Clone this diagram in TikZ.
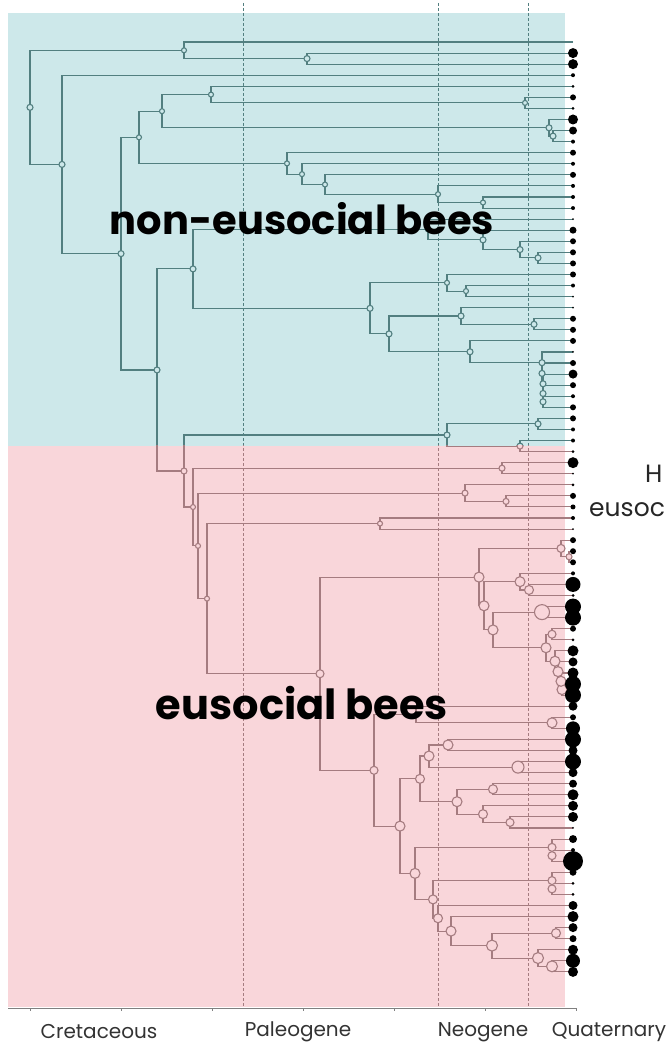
\documentclass[tikz,border=0pt]{standalone}
\usepackage{fontspec}
\usetikzlibrary{calc}
\newfontfamily\popfont{Poppins}

\definecolor{noneubg}{HTML}{CDE8EA}
\definecolor{eubg}{HTML}{F9D6DA}
\definecolor{noneuline}{HTML}{527F80}
\definecolor{euline}{HTML}{A57C80}

% one clade: name, x, upper child, lower child, knot radius
\newcommand\defclade[5]{\path let \p1=($(#3)!.5!(#4)$) in coordinate (#1) at (#2pt,\y1);}
\newcommand\edgeclade[5]{\draw[branch] (#3) -| (#1) |- (#4);}
\newcommand\knotclade[5]{\path[knot] (#1) circle[radius=#5pt];}

\newcommand\treedata{%
  % non-eusocial part
  \clade{c1}{307}{t1}{t2}{3}
  \clade{c2}{184}{t0}{c1}{2.5}
  \clade{c3}{525}{t5}{t6}{2.5}
  \clade{c4}{211}{t4}{c3}{2.5}
  \clade{c5}{553}{t8}{t9}{3}
  \clade{c6}{549}{t7}{c5}{3}
  \clade{c7}{162}{c4}{c6}{2.5}
  \clade{c8}{483}{t14}{t15}{2.5}
  \clade{c9}{438}{t13}{c8}{2.5}
  \clade{c10}{325}{t12}{c9}{2.5}
  \clade{c11}{302}{t11}{c10}{2.5}
  \clade{c12}{287}{t10}{c11}{2.5}
  \clade{c13}{139}{c7}{c12}{2.5}
  \clade{c14}{538}{t19}{t20}{3}
  \clade{c15}{520}{t18}{c14}{3}
  \clade{c16}{483}{t17}{c15}{3}
  \clade{c17}{428}{t16}{c16}{2.5}
  \clade{c18}{466}{t22}{t23}{2.5}
  \clade{c19}{447}{t21}{c18}{2.5}
  \clade{c20}{534}{t25}{t26}{3}
  \clade{c21}{461}{t24}{c20}{3}
  \clade{c22}{543}{t32}{t33}{3}
  \clade{c23}{543}{t31}{c22}{3}
  \clade{c24}{543}{t30}{c23}{3}
  \clade{c25}{542}{t29}{c24}{3}
  \clade{c26}{542}{t28}{c25}{3}
  \clade{c27}{470}{t27}{c26}{3}
  \clade{c28}{389}{c21}{c27}{3}
  \clade{c29}{370}{c19}{c28}{3}
  \clade{c30}{193}{c17}{c29}{3}
  \clade{c31}{538}{t34}{t35}{3}
  \clade{c32}{520}{t36}{t37}{3}
  \clade{c33}{447}{c31}{c32}{3}
  \clade{c34}{502}{t38}{t39}{3}
  \clade{c35}{506}{t41}{t42}{3}
  \clade{c36}{465}{t40}{c35}{3}
  \clade{c37}{380}{t43}{t44}{2.5}
  % eusocial part
  \clade{e1}{569}{t46}{t47}{3}
  \clade{e2}{561}{t45}{e1}{4}
  \clade{e3}{529}{t49}{t50}{4.5}
  \clade{e4}{520}{t48}{e3}{5}
  \clade{e5}{542}{t51}{t52}{7.5}
  \clade{e6}{552}{t53}{t54}{4}
  \clade{e7}{562}{t58}{t59}{5}
  \clade{e8}{561}{t57}{e7}{5}
  \clade{e9}{558}{t56}{e8}{5}
  \clade{e10}{555}{t55}{e9}{5}
  \clade{e11}{546}{e6}{e10}{5}
  \clade{e12}{493}{e5}{e11}{5}
  \clade{e13}{484}{e4}{e12}{5}
  \clade{e14}{479}{e2}{e13}{5}
  \clade{e15}{552}{t61}{t62}{5}
  \clade{e16}{416}{t60}{e15}{2}
  \clade{e17}{448}{t63}{t64}{5}
  \clade{e18}{518}{t65}{t66}{6}
  \clade{e19}{429}{e17}{e18}{5}
  \clade{e20}{493}{t67}{t68}{4.5}
  \clade{e21}{510}{t70}{t71}{4}
  \clade{e22}{483}{t69}{e21}{4.5}
  \clade{e23}{457}{e20}{e22}{5}
  \clade{e24}{420}{e19}{e23}{4.5}
  \clade{e25}{552}{t73}{t74}{4}
  \clade{e26}{552}{t72}{e25}{4}
  \clade{e27}{552}{t76}{t77}{4}
  \clade{e28}{552}{t75}{e27}{4}
  \clade{e29}{556}{t80}{t81}{4.5}
  \clade{e30}{552}{t83}{t84}{5.5}
  \clade{e31}{538}{t82}{e30}{5.5}
  \clade{e32}{492}{e29}{e31}{5.5}
  \clade{e33}{451}{t79}{e32}{5}
  \clade{e34}{438}{t78}{e33}{4.5}
  \clade{e35}{433}{e28}{e34}{4.5}
  \clade{e36}{415}{e26}{e35}{5}
  \clade{e37}{400}{e24}{e36}{5}
  \clade{e38}{374}{e16}{e37}{4}
  \clade{e39}{320}{e14}{e38}{4}
  % backbone
  \clade{c38}{207}{c37}{e39}{2.5}
  \clade{c39}{198}{c36}{c38}{2.5}
  \clade{c40}{193}{c34}{c39}{2.5}
  \clade{c41}{184}{c33}{c40}{3}
  \clade{c42}{157}{c30}{c41}{3}
  \clade{c43}{121}{c13}{c42}{3}
  \clade{c44}{62}{t3}{c43}{3}
  \clade{root}{30}{c2}{c44}{3}}

\newcommand\regionpass{%
  \foreach \x in {243,438,528} \draw[era] (\x,3) -- (\x,1008);
  \let\clade\edgeclade \treedata
  \let\clade\knotclade \treedata}

\begin{document}
\begin{tikzpicture}[x=1pt, y=-1pt,
  branch/.style={draw=treeline, line width=1.1pt},
  knot/.style={draw=treeline, fill=treebg, line width=1.1pt},
  era/.style={draw=treeline, line width=0.9pt, dash pattern=on 3pt off 2pt},
  group/.style={font=\popfont\bfseries\fontsize{40}{40}\selectfont, inner sep=0pt},
  tag/.style={font=\popfont\fontsize{20}{20}\selectfont, text=black!80, inner sep=0pt},
  side/.style={font=\popfont\fontsize{25}{25}\selectfont, text=black!85, inner sep=0pt, anchor=west}]
  \useasboundingbox (0,0) rectangle (667,1046);
  \clip (0,0) rectangle (667,1046);
  % backgrounds
  \fill[noneubg] (8,13) rectangle (565,445.5);
  \fill[eubg] (8,445.5) rectangle (565,1007);
  % tips
  \foreach \k in {0,...,84} \coordinate (t\k) at (573,{42+11.07*\k});
  \let\clade\defclade \treedata
  % teal half
  \begin{scope}
    \colorlet{treeline}{noneuline}\colorlet{treebg}{noneubg}
    \clip (0,0) rectangle (667,445.5);
    \regionpass
  \end{scope}
  % rose half
  \begin{scope}
    \colorlet{treeline}{euline}\colorlet{treebg}{eubg}
    \clip (0,445.5) rectangle (667,1046);
    \regionpass
  \end{scope}
  % tip dots
  \foreach \r [count=\k from 0] in {0,5,5,2,1.5,3,1.5,5,4,2, 3,2,3,2,2,2,1,3.5,3,3,
      3,3,2,1,1,3,3,3,1,3, 4.5,3,2,3,3,2,2,1.5,5.5,1, 1.5,3,2.5,2,1,3,3,3,2,7.5,
      1.5,8,8,3,1.5,5.5,4.5,5.5,8,8, 4.5,3,7,8,4.5,8,4.5,4,5.5,5, 5,1,4,2,10,3.5,1.5,1.5,4.5,5.5,
      4.5,3.5,5,7,5}
    \fill (t\k) circle[radius=\r pt];
  % time axis
  \draw[gray, line width=0.8pt] (8,1008) -- (576,1008);
  \foreach \x in {30,121,212,303,394,485,576} \draw[gray, line width=0.8pt] (\x,1008) -- (\x,1011);
  % labels
  \node[group] (noneu) at (302,219) {non-eusocial bees};
  \node[group, font=\popfont\bfseries\fontsize{41.5}{41.5}\selectfont] (eu) at (302,703) {eusocial bees};
  \node[tag] (cret) at (99,1032) {Cretaceous};
  \node[tag] (paleo) at (298,1032) {Paleogene};
  \node[tag] (neo) at (483,1032) {Neogene};
  \node[tag] (quat) at (609,1032) {Quaternary};
  \node[side] (hi) at (645,474) {H};
  \node[side] (eusoc) at (589,510) {eusoc};
\end{tikzpicture}
\end{document}
